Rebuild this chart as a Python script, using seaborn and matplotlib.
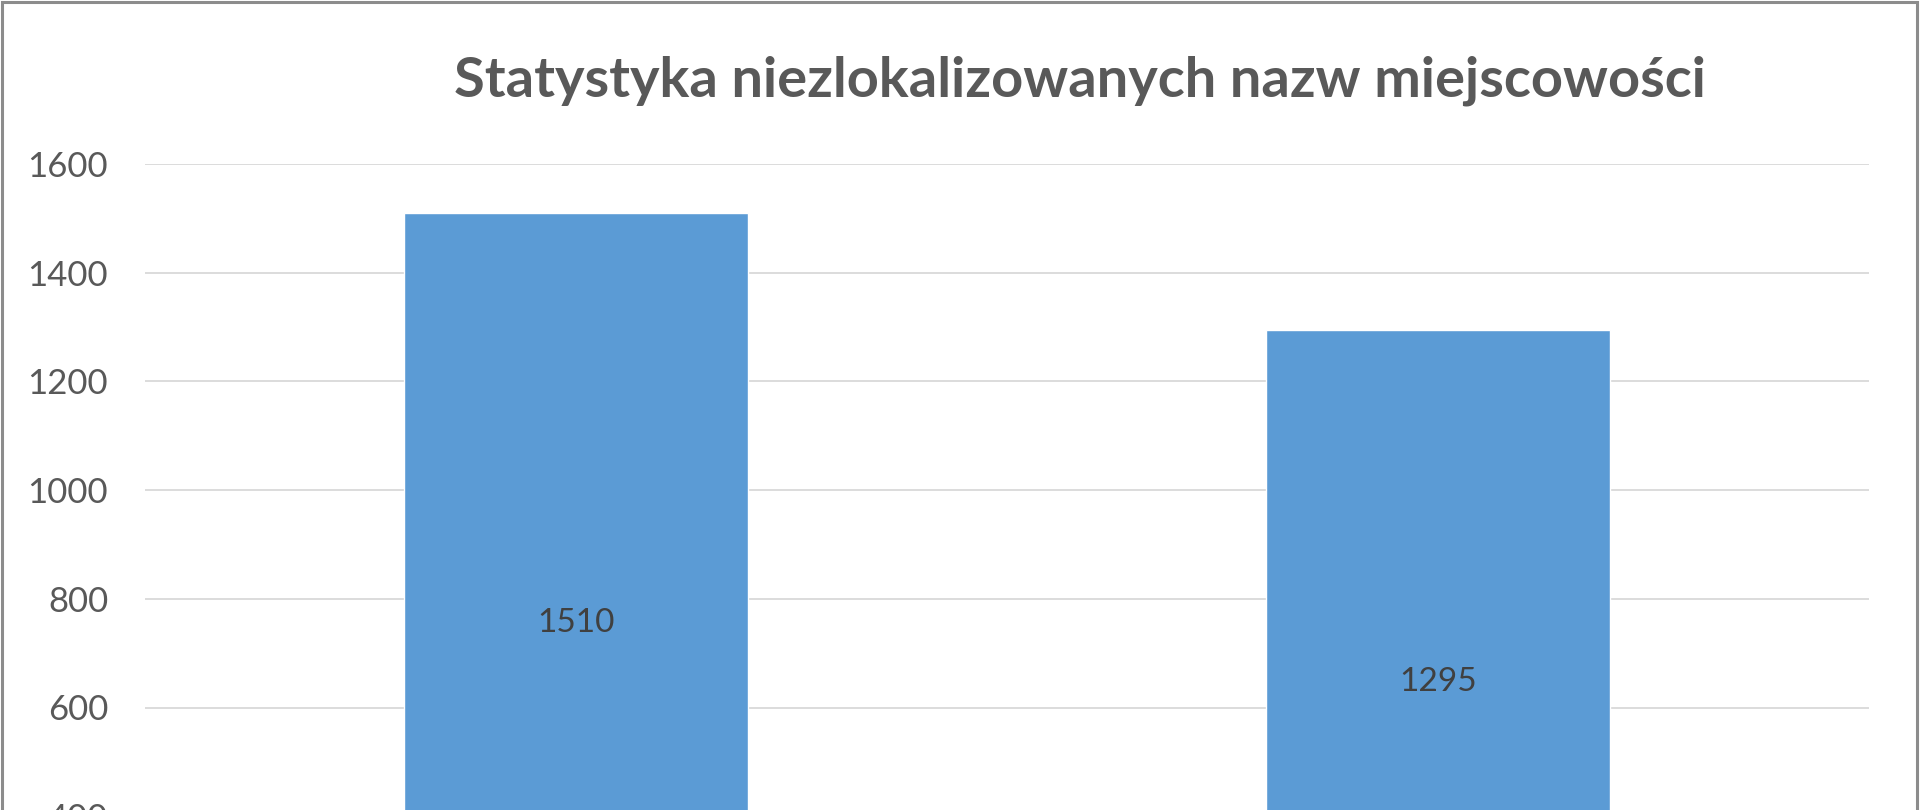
import matplotlib
matplotlib.use("Agg")
import matplotlib.pyplot as plt
import seaborn as sns
from matplotlib.patches import Rectangle

# ---- data ----
categories = ["Kategoria 1", "Kategoria 2"]
values = [1510, 1295]
y_ticks = [0, 200, 400, 600, 800, 1000, 1200, 1400, 1600]
title = "Statystyka niezlokalizowanych nazw miejscowości"

BAR = "#5B9BD5"
GRID = "#D9D9D9"
TXT = "#595959"
LBL = "#404040"

sns.set_theme(style="white")
plt.rcParams["font.family"] = ["Lato", "DejaVu Sans"]

W, H = 1920, 810
fig = plt.figure(figsize=(W / 100, H / 100), dpi=100)
fig.patch.set_facecolor("white")

# axes: top (1600) at y=164px, value 0 at y≈1033px (below the visible area)
left_px, right_px = 145, 1869
top_px = 164
px_per_unit = 108.7 / 200
zero_px = top_px + 1600 * px_per_unit
ax = fig.add_axes([left_px / W, 1 - zero_px / H, (right_px - left_px) / W,
                   (zero_px - top_px) / H])

sns.barplot(x=categories, y=values, color=BAR, saturation=1, width=0.4, ax=ax)
ax.set_ylim(0, 1600)
ax.set_yticks(y_ticks)
ax.set_yticklabels([str(t) for t in y_ticks], fontsize=25, color=TXT)
ax.tick_params(axis="y", length=0, pad=26.5)
# category axis lies below the visible (cropped) area of the reference
ax.tick_params(axis="x", length=0, labelbottom=False)
ax.set_xlabel("")
ax.set_ylabel("")
ax.yaxis.grid(True, color=GRID, linewidth=1.3)
ax.set_axisbelow(True)
for s in ax.spines.values():
    s.set_visible(False)

ax.bar_label(ax.containers[0], labels=[str(v) for v in values],
             label_type="center", fontsize=24, color=LBL)

# title, fitted to the reference width
t = fig.text(1079.5 / W, 1 - 97 / H, title, ha="center", va="baseline",
             fontsize=37, fontweight="bold", color=TXT)
fig.canvas.draw()
bb = t.get_window_extent()
t.set_fontsize(37 * 1255 / bb.width)

# chart border (bottom edge lies outside the visible area)
fig.patches.append(Rectangle((2 / W, -0.2), (1917 - 2) / W, 1.2 - 2 / H,
                             transform=fig.transFigure, fill=False,
                             edgecolor="#8C8C8C", linewidth=2.2))

fig.savefig("out.png", dpi=100)
